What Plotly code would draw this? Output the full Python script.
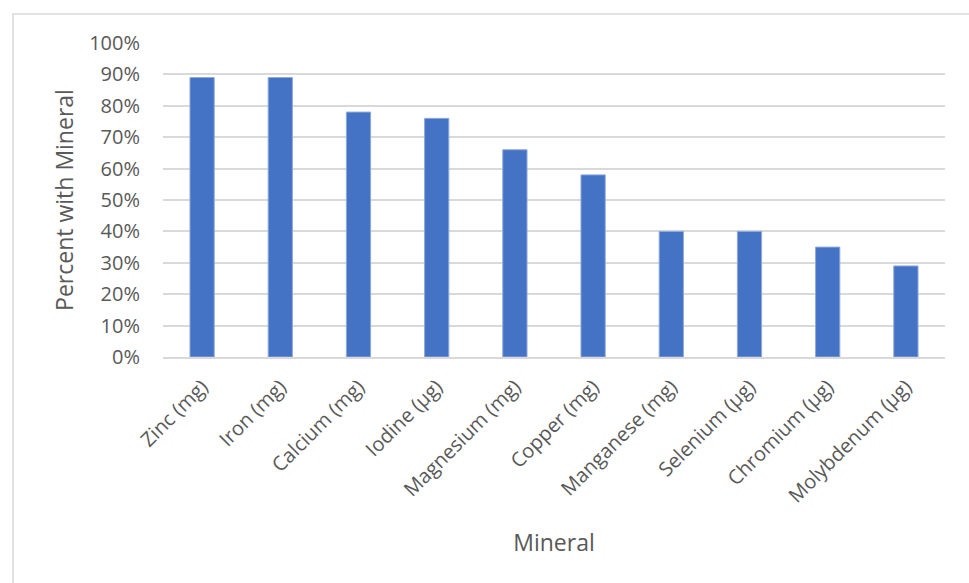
import plotly.graph_objects as go

minerals = ["Zinc (mg)", "Iron (mg)", "Calcium (mg)", "Iodine (µg)", "Magnesium (mg)",
            "Copper (mg)", "Manganese (mg)", "Selenium (µg)", "Chromium (µg)", "Molybdenum (µg)"]
percent_with = [0.89, 0.89, 0.78, 0.76, 0.66, 0.58, 0.40, 0.40, 0.35, 0.29]

W, H = 969, 583
L, R, T, B = 163, 24, 43, 226
pw, ph = W - L - R, H - T - B

fig = go.Figure(go.Bar(
    x=minerals, y=percent_with,
    marker=dict(color="#4472C4", line=dict(color="#8fa9dc", width=1)),
))

font_family = "Open Sans, Noto Sans, sans-serif"
fig.update_layout(
    width=W, height=H,
    margin=dict(l=L, r=R, t=T, b=B),
    paper_bgcolor="white", plot_bgcolor="white",
    bargap=0.69,
    showlegend=False,
    font=dict(family=font_family, color="#595959", size=20),
    xaxis=dict(
        tickangle=-45, showgrid=False, showline=True, linecolor="#d9d9d9", linewidth=2,
        ticks="", ticklabelstandoff=8, tickfont=dict(size=20, color="#595959"),
        title=dict(text="Mineral", font=dict(size=23, color="#595959"), standoff=28),
    ),
    yaxis=dict(
        range=[0, 1.0], dtick=0.1, tickformat=".0%",
        showgrid=True, gridcolor="#d9d9d9", gridwidth=1.5,
        zeroline=False, ticks="", ticklabelstandoff=22,
        tickfont=dict(size=20, color="#595959"),
        title=dict(text="Percent with Mineral", font=dict(size=23, color="#595959"), standoff=9),
    ),
    shapes=[dict(
        type="rect", xref="paper", yref="paper",
        x0=(13 - L) / pw, x1=1 + (R + 20) / pw,
        y0=-(B + 20) / ph, y1=1 + (T - 14) / ph,
        line=dict(color="#d9d9d9", width=1.5), fillcolor="rgba(0,0,0,0)", layer="below",
    )],
)

fig.write_html("out.html")
